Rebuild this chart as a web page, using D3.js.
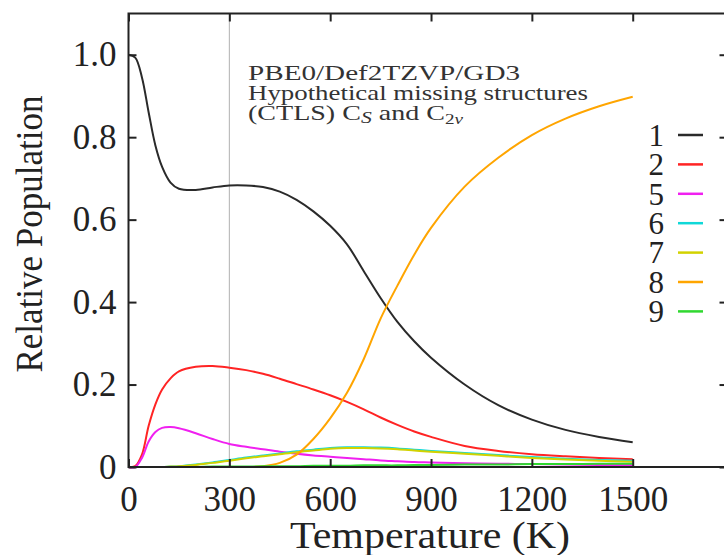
<!DOCTYPE html>
<html>
<head>
<meta charset="utf-8">
<script src="https://d3js.org/d3.v7.min.js"></script>
<style>
  body { margin: 0; background: #fff; }
  svg text { font-family: "Liberation Serif", "DejaVu Serif", serif; fill: #222; }
</style>
</head>
<body>
<svg id="chart" width="724" height="555"></svg>
<script>
// temperature grid (K) shared by all the curves
var temps = [0, 20, 40, 60, 80, 100, 125, 150, 200, 250, 300, 350, 400, 450, 500,
             550, 600, 650, 700, 750, 800, 850, 900, 1000, 1100, 1200, 1300, 1400, 1500];

// relative populations
var pop1 = [1.0, 0.993, 0.945, 0.86, 0.78, 0.728, 0.69, 0.675, 0.672, 0.678, 0.683, 0.683, 0.679, 0.668, 0.648,
            0.62, 0.585, 0.54, 0.475, 0.41, 0.352, 0.305, 0.265, 0.2, 0.15, 0.115, 0.09, 0.073, 0.06];
var pop2 = [0, 0.002, 0.03, 0.1, 0.152, 0.188, 0.215, 0.232, 0.243, 0.245, 0.241, 0.235, 0.226, 0.214, 0.201,
            0.188, 0.174, 0.158, 0.14, 0.12, 0.102, 0.086, 0.073, 0.051, 0.039, 0.031, 0.026, 0.022, 0.019];
var pop5 = [0, 0, 0.022, 0.062, 0.085, 0.095, 0.097, 0.094, 0.082, 0.068, 0.056, 0.049, 0.043, 0.037, 0.032,
            0.028, 0.025, 0.022, 0.019, 0.016, 0.014, 0.012, 0.011, 0.009, 0.008, 0.007, 0.006, 0.005, 0.005];
var pop6 = [0, 0, 0, 0, 0, 0, 0.001, 0.002, 0.006, 0.011, 0.017, 0.023, 0.028, 0.033, 0.038,
            0.042, 0.046, 0.048, 0.048, 0.047, 0.045, 0.042, 0.039, 0.034, 0.029, 0.024, 0.02, 0.017, 0.015];
var pop7 = [0, 0, 0, 0, 0, 0, 0.001, 0.002, 0.005, 0.01, 0.015, 0.021, 0.026, 0.031, 0.036,
            0.04, 0.044, 0.046, 0.046, 0.045, 0.043, 0.04, 0.037, 0.032, 0.027, 0.022, 0.018, 0.015, 0.013];
var pop8 = [0, 0, 0, 0, 0, 0, 0, 0, 0, 0, 0, 0, 0.002, 0.01, 0.03,
            0.068, 0.118, 0.18, 0.262, 0.36, 0.44, 0.515, 0.58, 0.68, 0.75, 0.805, 0.845, 0.875, 0.898];
var pop9 = [0, 0, 0, 0, 0, 0, 0, 0, 0, 0.001, 0.001, 0.001, 0.002, 0.002, 0.002,
            0.003, 0.003, 0.003, 0.004, 0.004, 0.004, 0.005, 0.005, 0.006, 0.006, 0.007, 0.007, 0.008, 0.008];

var seriesNames = ['1', '2', '5', '6', '7', '8', '9'];
var seriesValues = [pop1, pop2, pop5, pop6, pop7, pop8, pop9];
var seriesColors = ['#2a2a2a', '#ff2424', '#f020f0', '#10d8d8', '#d2d200', '#ffa500', '#30d830'];

var xTicks = [0, 300, 600, 900, 1200, 1500];
var yTicks = [0, 0.2, 0.4, 0.6, 0.8, 1.0];

var svg = d3.select('#chart');
var pLeft = 128.5, pRight = 727.5, pTop = 13.5, pBottom = 467;

var x = d3.scaleLinear().domain([0, 1782]).range([pLeft, pRight]);
var y = d3.scaleLinear().domain([0, 1.1]).range([pBottom, pTop]);

// thin grey marker at 300 K
svg.append('line')
    .attr('x1', x(300)).attr('x2', x(300))
    .attr('y1', pBottom).attr('y2', pTop)
    .style('stroke', '#b0b0b0').style('stroke-width', 1);

// curves
var line = d3.line()
    .x(function (d) { return x(d[0]); })
    .y(function (d) { return y(Math.max(0, d[1])); })
    .curve(d3.curveCatmullRom.alpha(0.5));

seriesValues.forEach(function (vals, i) {
    svg.append('path')
        .datum(temps.map(function (t, j) { return [t, vals[j]]; }))
        .attr('d', line)
        .style('fill', 'none')
        .style('stroke', seriesColors[i])
        .style('stroke-width', 2);
});

// frame with inward ticks on all sides
svg.append('rect')
    .attr('x', pLeft).attr('y', pTop)
    .attr('width', pRight - pLeft).attr('height', pBottom - pTop)
    .style('fill', 'none').style('stroke', '#222').style('stroke-width', 2);

var axB = svg.append('g').attr('transform', 'translate(0,' + pBottom + ')')
    .call(d3.axisBottom(x).tickValues(xTicks).tickSize(-8).tickPadding(19).tickFormat(d3.format('d')));
var axT = svg.append('g').attr('transform', 'translate(0,' + pTop + ')')
    .call(d3.axisTop(x).tickValues(xTicks).tickSize(-8).tickFormat(''));
var axL = svg.append('g').attr('transform', 'translate(' + pLeft + ',0)')
    .call(d3.axisLeft(y).tickValues(yTicks).tickSize(-8).tickPadding(12)
        .tickFormat(function (d) { return d === 0 ? '0' : d3.format('.1f')(d); }));
var axR = svg.append('g').attr('transform', 'translate(' + pRight + ',0)')
    .call(d3.axisRight(y).tickValues(yTicks).tickSize(-8).tickFormat(''));

[axB, axT, axL, axR].forEach(function (a) {
    a.select('.domain').remove();
    a.selectAll('line').style('stroke', '#222').style('stroke-width', 2);
    a.selectAll('text').style('font-size', '35px').style('font-family', '"Liberation Serif", serif').style('fill', '#222');
});

// axis titles
svg.append('text')
    .attr('x', 430).attr('y', 548)
    .attr('text-anchor', 'middle')
    .attr('textLength', 280).attr('lengthAdjust', 'spacingAndGlyphs')
    .style('font-size', '38px')
    .text('Temperature (K)');

svg.append('text')
    .attr('transform', 'translate(42,234) rotate(-90)')
    .attr('text-anchor', 'middle')
    .attr('textLength', 277).attr('lengthAdjust', 'spacingAndGlyphs')
    .style('font-size', '37px')
    .text('Relative Population');

// annotation
var note = svg.append('g');
note.append('text').attr('x', 248).attr('y', 80)
    .attr('textLength', 272).attr('lengthAdjust', 'spacingAndGlyphs')
    .style('font-size', '22px').style('fill', '#333').text('PBE0/Def2TZVP/GD3');
note.append('text').attr('x', 248).attr('y', 100)
    .attr('textLength', 340).attr('lengthAdjust', 'spacingAndGlyphs')
    .style('font-size', '21px').style('fill', '#333').text('Hypothetical missing structures');
var l3 = note.append('text').attr('x', 248).attr('y', 120)
    .attr('textLength', 215).attr('lengthAdjust', 'spacingAndGlyphs')
    .style('font-size', '22px').style('fill', '#333');
l3.append('tspan').text('(CTLS) C');
l3.append('tspan').attr('dy', 3).style('font-size', '17px').style('font-style', 'italic').text('S');
l3.append('tspan').attr('dy', -3).text(' and C');
l3.append('tspan').attr('dy', 4).style('font-size', '15px').text('2');
l3.append('tspan').style('font-size', '15px').style('font-style', 'italic').text('v');

// legend
var legend = svg.append('g');
seriesNames.forEach(function (name, i) {
    var ly = 135 + i * 29.4;
    legend.append('text')
        .attr('x', 664).attr('y', ly)
        .attr('dy', '0.35em')
        .attr('text-anchor', 'end')
        .style('font-size', '31px')
        .text(name);
    legend.append('line')
        .attr('x1', 678).attr('x2', 703)
        .attr('y1', ly).attr('y2', ly)
        .style('stroke', seriesColors[i])
        .style('stroke-width', 2.5);
});
</script>
</body>
</html>
